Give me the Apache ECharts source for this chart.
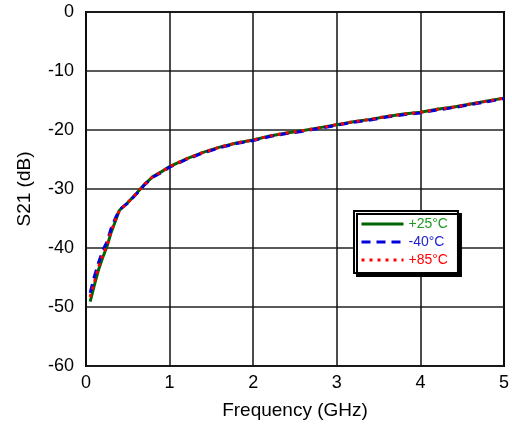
<!DOCTYPE html>
<html>
<head>
<meta charset="utf-8">
<script src="https://cdn.jsdelivr.net/npm/echarts@6/dist/echarts.min.js"></script>
<style>html,body{margin:0;padding:0;background:#fff}#c{width:512px;height:427px}</style>
</head>
<body>
<div id="c"></div>
<script>
var freq = [0.05, 0.1, 0.15, 0.2, 0.25, 0.3, 0.35, 0.4, 0.5, 0.6, 0.7, 0.8, 0.9, 1.0, 1.2, 1.4, 1.6, 1.8, 2.0, 2.2, 2.4, 2.6, 2.8, 3.0, 3.2, 3.4, 3.6, 3.8, 4.0, 4.2, 4.4, 4.6, 4.8, 5.0];
var s21_p25 = [-49.1, -46.3, -43.7, -41.6, -39.8, -37.4, -35.5, -33.6, -32.3, -30.8, -29.2, -27.9, -27.1, -26.2, -24.9, -23.8, -22.9, -22.2, -21.7, -21.0, -20.5, -20.1, -19.6, -19.1, -18.6, -18.2, -17.7, -17.3, -17.0, -16.5, -16.1, -15.6, -15.1, -14.6];
var s21_m40 = [-47.6, -44.8, -42.5, -40.4, -39.0, -36.7, -35.0, -33.5, -32.4, -30.9, -29.3, -28.0, -27.2, -26.3, -25.0, -23.9, -23.0, -22.3, -21.8, -21.1, -20.6, -20.2, -19.7, -19.2, -18.7, -18.3, -17.8, -17.4, -17.1, -16.6, -16.2, -15.7, -15.2, -14.7];
var s21_p85 = [-48.3, -45.8, -43.2, -41.2, -39.6, -37.2, -35.3, -33.6, -32.3, -30.8, -29.2, -27.9, -27.1, -26.2, -24.9, -23.8, -22.9, -22.2, -21.7, -21.0, -20.5, -20.1, -19.6, -19.1, -18.6, -18.2, -17.7, -17.3, -17.0, -16.5, -16.1, -15.6, -15.1, -14.6];
var names = ['+25°C', '-40°C', '+85°C'];

function pairs(ys){ return freq.map(function(f,i){ return [f, ys[i]]; }); }

var chart = echarts.init(document.getElementById('c'), null, {renderer:'canvas'});
var font = 'Liberation Sans, Arial, sans-serif';
chart.setOption({
  animation: false,
  backgroundColor: '#fff',
  grid: {left: 86, right: 5, top: 12, bottom: 61, show: true, borderColor: '#000', borderWidth: 2, backgroundColor: 'transparent'},
  xAxis: {
    type: 'value', min: 0, max: 5, interval: 1,
    name: 'Frequency (GHz)', nameLocation: 'middle', nameGap: 35,
    nameTextStyle: {fontFamily: font, fontSize: 19, color: '#000'},
    axisLine: {show: false},
    axisTick: {show: false},
    axisLabel: {fontFamily: font, fontSize: 18, color: '#000', margin: 8},
    splitLine: {show: true, lineStyle: {color: '#111', width: 1.5}}
  },
  yAxis: {
    type: 'value', min: -60, max: 0, interval: 10,
    name: 'S21 (dB)', nameLocation: 'middle', nameGap: 52,
    nameTextStyle: {fontFamily: font, fontSize: 19, color: '#000'},
    axisLine: {show: false},
    axisTick: {show: false},
    axisLabel: {fontFamily: font, fontSize: 18, color: '#000', margin: 12},
    splitLine: {show: true, lineStyle: {color: '#222', width: 1.5}}
  },
  legend: {
    orient: 'vertical', left: 354, top: 211,
    backgroundColor: '#fff', borderColor: '#000', borderWidth: 2,
    shadowColor: '#000', shadowOffsetX: 3, shadowOffsetY: 3, shadowBlur: 0,
    padding: [6, 10, 6, 6], itemGap: 4, itemWidth: 42, itemHeight: 13,
    itemStyle: {opacity: 0, color: 'rgba(0,0,0,0)', borderWidth: 0},
    lineStyle: {width: 3},
    textStyle: {fontFamily: font, fontSize: 14},
    data: [
      {name: names[0], textStyle: {color: '#1f9a1f'}},
      {name: names[1], textStyle: {color: '#2222cc'}},
      {name: names[2], textStyle: {color: '#ff0000'}}
    ]
  },
  series: [
    {name: names[0], type: 'line', data: pairs(s21_p25), symbol: 'none', color: '#006400',
     lineStyle: {color: '#006400', width: 3}},
    {name: names[1], type: 'line', data: pairs(s21_m40), symbol: 'none', color: '#0000dd',
     lineStyle: {color: '#0000dd', width: 3, type: [9, 6]}},
    {name: names[2], type: 'line', data: pairs(s21_p85), symbol: 'none', color: '#ff0000',
     lineStyle: {color: '#ff0000', width: 3, type: [3, 5]}}
  ]
});
</script>
</body>
</html>
